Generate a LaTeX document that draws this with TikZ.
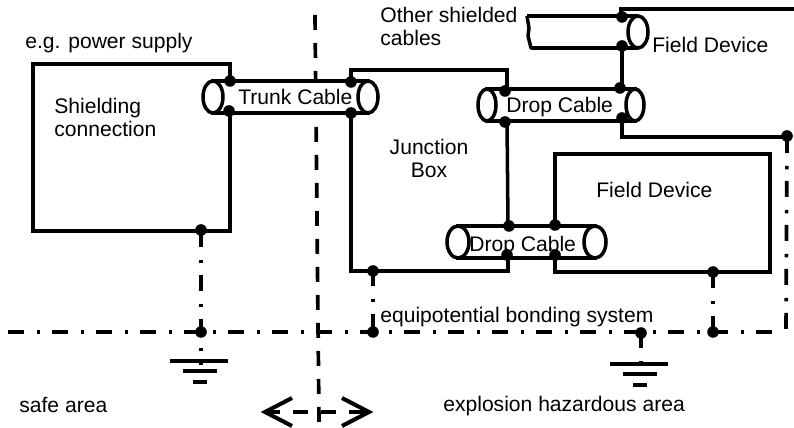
\documentclass[tikz,border=0pt]{standalone}
\usepackage{fontspec}
\setmainfont{Liberation Sans}
\tikzset{
  wire/.style={line width=2pt},
  bond/.style={line width=2.1pt,dash pattern=on 0.32cm off 0.26cm on 0.07cm off 0.23cm},
  border/.style={line width=2.1pt,dash pattern=on 0.30cm off 0.26cm},
  lbl/.style={anchor=base west,inner sep=0pt,align=left},
  earthbar/.style={line width=2.2pt}
}
\newcommand{\cable}[4]{% left centre, right centre, mid height, x radius
  \filldraw[wire,fill=white] (#1,#3-16) rectangle (#2,#3+16);
  \filldraw[wire,fill=white] (#1,#3) ellipse [x radius=#4,y radius=16];
  \filldraw[wire,fill=white] (#2,#3) ellipse [x radius=#4,y radius=16];
}
\newcommand{\earth}[2]{% centre, height of the top bar
  \draw[earthbar] (#1-31,#2) -- (#1+27,#2);
  \draw[earthbar] (#1-18,#2+10) -- (#1+16,#2+10);
  \draw[earthbar] (#1-8,#2+21) -- (#1+6,#2+21);
}
\begin{document}
\begin{tikzpicture}[x=0.02cm,y=-0.02cm,font=\fontsize{12pt}{13.6pt}\selectfont]
\useasboundingbox (0,0) rectangle (794,428);
% area border and its arrow
\draw[border] (315,15) -- (319,422);
\draw[border] (265,412) -- (369,412);
\draw[line width=2.3pt,line join=miter] (292,398) -- (265,412) -- (292,426);
\draw[line width=2.3pt,line join=miter] (342,398) -- (369,412) -- (342,426);
% bonding lines
\coordinate (bondW) at (8,332);
\coordinate (bondE) at (772,332);
\coordinate (bondA) at (201,332);
\coordinate (bondB) at (373,332);
\coordinate (bondC) at (641,332);
\coordinate (bondD) at (713,332);
\coordinate (supplyPE) at (201,231);
\coordinate (juncPE) at (373,270);
\coordinate (devPE) at (713,272);
\coordinate (screenPE) at (787,137);
\draw[bond] (bondW) -- (bondE);
\draw[bond] (supplyPE) -- (201,365);
\draw[bond] (juncPE) -- (bondB);
\draw[bond] (devPE) -- (bondD);
\draw[bond] (bondC) -- (641,365);
\draw[bond] (screenPE) -- (786,332);
\earth{201}{361}
\earth{641}{364}
% boxes
\draw[wire] (230,82) -- (230,64) -- (33,64) -- (33,231) -- (230,231) -- (230,112);
\draw[wire] (351,82) -- (351,70) -- (507,70) -- (507,90);
\draw[wire] (351,112) -- (351,271) -- (508,271) -- (508,258);
\draw[wire] (507,121) -- (508,226);
\draw[wire] (555,226) -- (555,154) -- (770,154) -- (770,272) -- (555,272) -- (555,258);
\draw[wire] (621,17) -- (621,9) -- (794,9);
\draw[wire] (622,48) -- (622,89);
\draw[wire] (622,121) -- (622,137) -- (screenPE);
% cables
\cable{213}{368}{97}{10}
\cable{487}{635}{105}{9}
\cable{458}{595}{242}{11}
\draw[wire] (527,16) -- (638,16);
\draw[wire,line join=round] (527,16) -- (529,28) -- (528,36) -- (531,48) -- (638,48);
\filldraw[wire,fill=white] (638,32) ellipse [x radius=10,y radius=16];
% joints
\foreach \px/\py in {230/81,229/111,351/82,351/113,505/91,505/122,620/88,622/118,
    622/17,622/46,509/226,555/225,507/255,555/255,201/230,373/271,713/272,787/136,
    201/332,373/332,641/333,713/332}
  \fill (\px,\py) circle (5.8);
% labels
\node[lbl] (supplyText) at (25,49) {e.g. power supply};
\node[lbl] (shieldText) at (54,137) {Shielding\\connection};
\node[lbl] (trunkText) at (238,105) {Trunk Cable};
\node[lbl,anchor=base,align=center] (juncText) at (429,178) {Junction\\Box};
\node[lbl] (otherText) at (380,46) {Other shielded\\cables};
\node[lbl] (dropTextA) at (506,113) {Drop Cable};
\node[lbl] (dropTextB) at (469,252) {Drop Cable};
\node[lbl] (devTextA) at (652,53) {Field Device};
\node[lbl] (devTextB) at (596,198) {Field Device};
\node[lbl] (bondText) at (380,323) {equipotential bonding system};
\node[lbl] (safeText) at (19,413) {safe area};
\node[lbl] (hazardText) at (443,412) {explosion hazardous area};
\end{tikzpicture}
\end{document}
